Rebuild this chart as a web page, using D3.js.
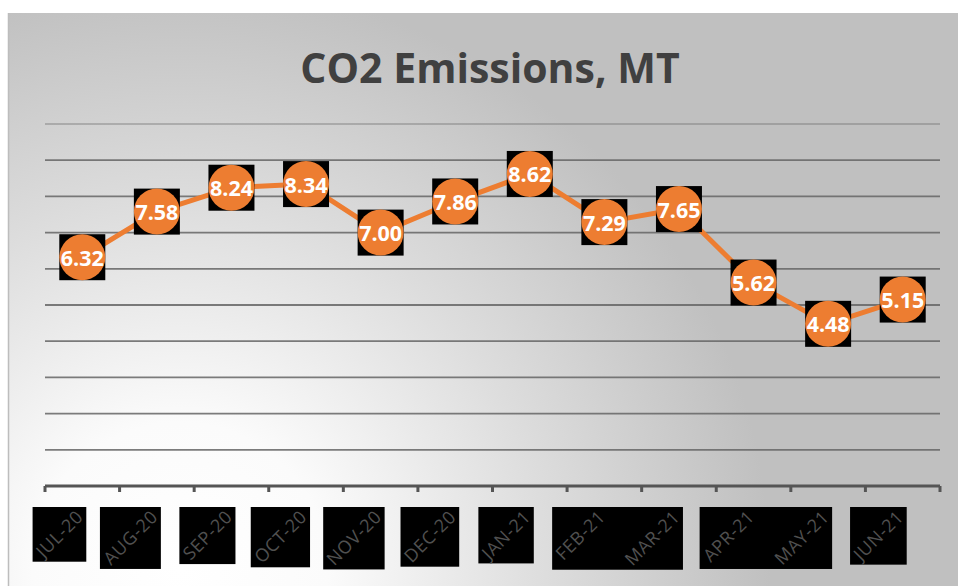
<!DOCTYPE html>
<html>
<head>
<meta charset="utf-8">
<script src="https://cdn.jsdelivr.net/npm/d3@7/dist/d3.min.js"></script>
<style>
  html, body { margin: 0; padding: 0; background: #ffffff; }
  svg { display: block; }
</style>
</head>
<body>
<svg id="chart" width="958" height="586"></svg>
<script>
// ---- data ----
const months = ["JUL-20","AUG-20","SEP-20","OCT-20","NOV-20","DEC-20","JAN-21","FEB-21","MAR-21","APR-21","MAY-21","JUN-21"];
const emissions = [6.32, 7.58, 8.24, 8.34, 7.00, 7.86, 8.62, 7.29, 7.65, 5.62, 4.48, 5.15];
const yTicks = [1, 2, 3, 4, 5, 6, 7, 8, 9, 10];
const titleText = "CO2 Emissions, MT";
// label boxes that share one black backdrop (indices into months)
const labelGroups = [[0],[1],[2],[3],[4],[5],[6],[7,8],[9,10],[11]];

const W = 958, H = 586;
const svg = d3.select("#chart");
const defs = svg.append("defs");

const grad = defs.append("radialGradient")
  .attr("id", "bg").attr("gradientUnits", "userSpaceOnUse")
  .attr("cx", 180).attr("cy", 570).attr("r", 590);
grad.append("stop").attr("offset", "0").attr("stop-color", "#ffffff");
grad.append("stop").attr("offset", "0.25").attr("stop-color", "#fbfbfb");
grad.append("stop").attr("offset", "0.62").attr("stop-color", "#dddddd");
grad.append("stop").attr("offset", "1").attr("stop-color", "#c0c0c0");

const blur = defs.append("filter").attr("id", "soft").attr("x", "-5%").attr("y", "-200%").attr("width", "110%").attr("height", "500%");
blur.append("feGaussianBlur").attr("stdDeviation", 1.2);

// background panel
svg.append("rect").attr("x", 8).attr("y", 13).attr("width", W - 8).attr("height", H - 13)
  .attr("fill", "url(#bg)");
svg.append("line").attr("x1", 8.5).attr("x2", 8.5).attr("y1", 13).attr("y2", H)
  .attr("stroke", "#bdbdbd").attr("stroke-width", 1.5);

// scales
const x = d3.scaleBand().domain(months).range([45, 940]);
const y = d3.scaleLinear().domain([0, 10]).range([486, 124]);
const cx = d => x(d) + x.bandwidth() / 2;

// title
svg.append("text").attr("x", 490).attr("y", 83).attr("text-anchor", "middle")
  .attr("font-family", "'Open Sans', sans-serif").attr("font-weight", 700)
  .attr("font-size", 41).attr("fill", "#404040").text(titleText);

// gridlines
const grid = svg.append("g");
grid.selectAll("line.glow").data(yTicks).join("line")
  .attr("x1", 45).attr("x2", 940).attr("y1", d => y(d)).attr("y2", d => y(d))
  .attr("stroke", "#8a8a8a").attr("stroke-width", 4).attr("opacity", d => d === 10 ? 0.35 : 0.75)
  .attr("filter", "url(#soft)");
grid.selectAll("line.core").data(yTicks).join("line")
  .attr("x1", 45).attr("x2", 940).attr("y1", d => y(d)).attr("y2", d => y(d))
  .attr("stroke", "#666666").attr("stroke-width", 1.8).attr("opacity", d => d === 10 ? 0.35 : 0.85);

// x axis
const axisG = svg.append("g").attr("transform", `translate(0,${y(0)})`);
const tickPos = months.map(m => x(m)).concat([x.range()[1]]);
axisG.append("line").attr("x1", 45).attr("x2", 940).attr("y1", 0).attr("y2", 0)
  .attr("stroke", "#555555").attr("stroke-width", 3);
axisG.selectAll("line.tick").data(tickPos).join("line")
  .attr("x1", d => d).attr("x2", d => d).attr("y1", 0).attr("y2", 6)
  .attr("stroke", "#555555").attr("stroke-width", 3);

// x labels
const FS = 18, S = Math.SQRT1_2, capOff = 0.72 * FS * S;
const lblLayer = svg.append("g");
const boxLayer = lblLayer.append("g");
const textLayer = lblLayer.append("g");
const boxes = [];
textLayer.selectAll("text").data(months).join("text")
  .attr("text-anchor", "end")
  .attr("font-family", "'Open Sans', sans-serif").attr("font-size", FS)
  .attr("letter-spacing", 0.6)
  .attr("fill", "#505050")
  .text(d => d)
  .each(function(d) {
    const L = this.getComputedTextLength();
    const ax = cx(d) + 2, ay = 509 + capOff;
    d3.select(this).attr("transform", `translate(${ax},${ay}) rotate(-45)`);
    const sx = ax - L * S, sy = ay + L * S;
    boxes.push({ l: sx - capOff, r: ax, t: ay - capOff, b: sy });
  });
labelGroups.forEach(g => {
  const l = d3.min(g, i => boxes[i].l) - 2, r = d3.max(g, i => boxes[i].r) + 2;
  const t = d3.min(g, i => boxes[i].t) - 2, bt = d3.max(g, i => boxes[i].b) + 3;
  boxLayer.append("rect").attr("x", l).attr("y", t).attr("width", r - l).attr("height", bt - t).attr("fill", "#000");
});

// line
const line = d3.line().x((d, i) => cx(months[i])).y(d => y(d));
svg.append("path").datum(emissions).attr("d", line)
  .attr("fill", "none").attr("stroke", "#ED7D31").attr("stroke-width", 5).attr("stroke-linejoin", "round");

// markers with labels
const pts = svg.append("g").selectAll("g").data(emissions).join("g")
  .attr("transform", (d, i) => `translate(${cx(months[i])},${y(d)})`);
pts.append("rect").attr("x", -23).attr("y", -23).attr("width", 46).attr("height", 46).attr("fill", "#000");
pts.append("circle").attr("r", 23).attr("fill", "#ED7D31");
pts.append("text").attr("text-anchor", "middle").attr("y", 8.5)
  .attr("font-family", "'Open Sans', sans-serif").attr("font-weight", 700)
  .attr("font-size", 21.5).attr("fill", "#ffffff")
  .text(d => d.toFixed(2));
</script>
</body>
</html>
